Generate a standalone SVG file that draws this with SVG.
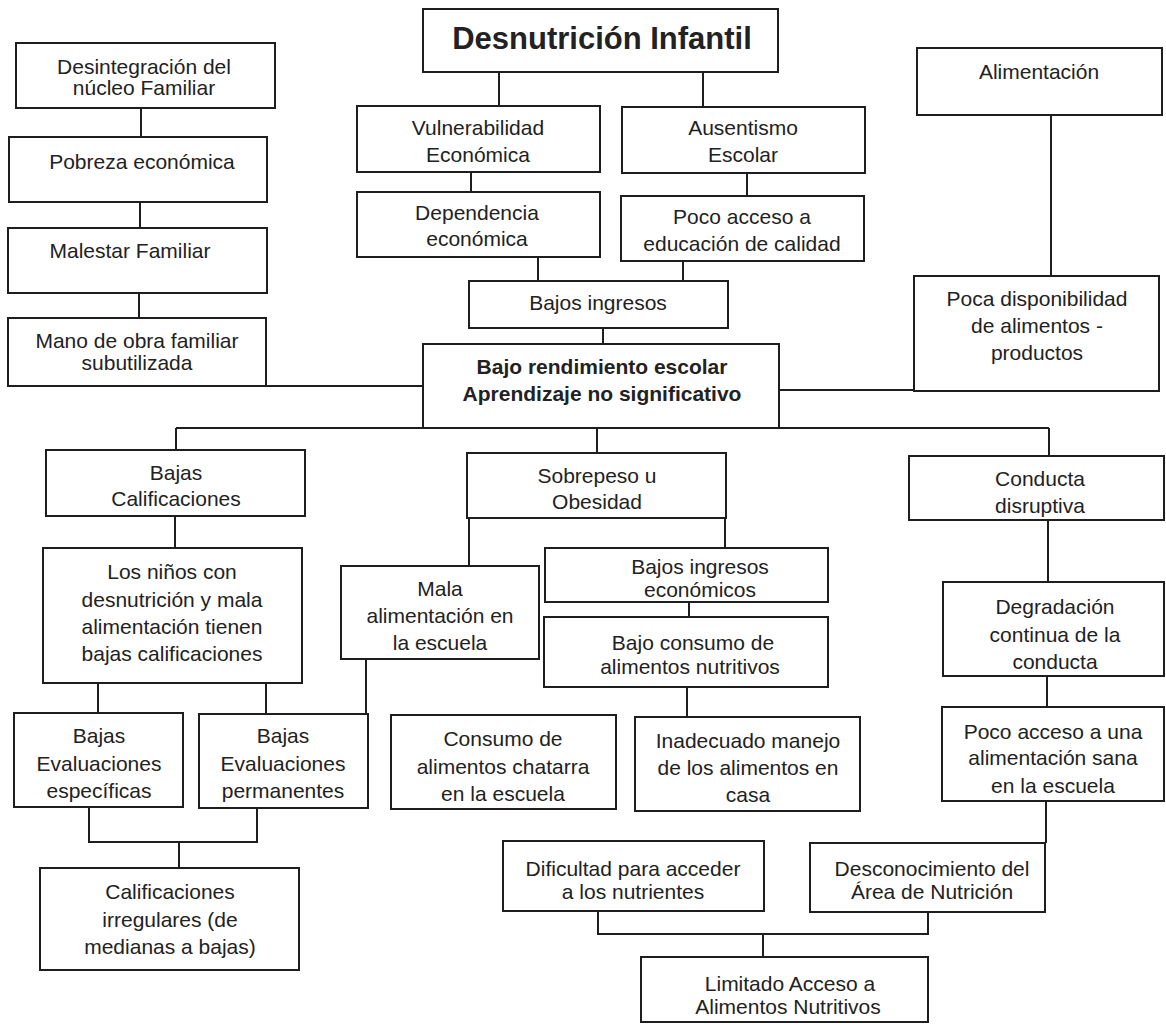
<svg xmlns="http://www.w3.org/2000/svg" width="1166" height="1025" viewBox="0 0 1166 1025">
<style>
  rect.box { fill: #ffffff; stroke: #1e1e1e; stroke-width: 2; }
  text { font-family: "Liberation Sans", Arial, sans-serif; font-size: 21px; fill: #222222; text-anchor: middle; }
  text.title { font-size: 31px; font-weight: bold; }
  text.bold { font-weight: bold; }
  #connectors path { fill: none; stroke: #1e1e1e; stroke-width: 2; }
</style>
<rect x="0" y="0" width="1166" height="1025" fill="#ffffff"/>

<g id="connectors">
  <path d="M141 108 V137"/>
  <path d="M140 202 V228"/>
  <path d="M139 293 V318"/>
  <path d="M266 386 H423"/>
  <path d="M499 72 V106"/>
  <path d="M703 72 V107"/>
  <path d="M471 172 V192"/>
  <path d="M747 173 V196"/>
  <path d="M538 257 V281"/>
  <path d="M683 261 V281"/>
  <path d="M603 328 V344"/>
  <path d="M1051 115 V276"/>
  <path d="M779 390 H914"/>
  <path d="M176 428 H1049"/>
  <path d="M176 428 V450"/>
  <path d="M597 428 V453"/>
  <path d="M1049 428 V456"/>
  <path d="M175 516 V548"/>
  <path d="M98 683 V713"/>
  <path d="M266 683 V714"/>
  <path d="M469 518 V566"/>
  <path d="M725 518 V548"/>
  <path d="M366 659 V714"/>
  <path d="M689 602 V617"/>
  <path d="M687 687 V717"/>
  <path d="M1048 520 V582"/>
  <path d="M1047 676 V707"/>
  <path d="M1046 801 V843"/>
  <path d="M89 807 V842 H257 V808"/>
  <path d="M179 842 V868"/>
  <path d="M598 911 V934 H928 V912"/>
  <path d="M763 934 V957"/>
</g>

<g id="n-desnutricion">
  <rect class="box" x="423" y="9" width="355" height="63"/>
  <text class="title" x="602" y="49">Desnutrición Infantil</text>
</g>
<g id="n-desintegracion">
  <rect class="box" x="16" y="43" width="259" height="65"/>
  <text x="144" y="74">Desintegración del</text>
  <text x="144" y="95">núcleo Familiar</text>
</g>
<g id="n-pobreza">
  <rect class="box" x="9" y="137" width="258" height="65"/>
  <text x="142" y="169">Pobreza económica</text>
</g>
<g id="n-malestar">
  <rect class="box" x="8" y="228" width="259" height="65"/>
  <text x="130" y="258">Malestar Familiar</text>
</g>
<g id="n-mano-obra">
  <rect class="box" x="8" y="318" width="258" height="68"/>
  <text x="137" y="348">Mano de obra familiar</text>
  <text x="137" y="370">subutilizada</text>
</g>
<g id="n-vulnerabilidad">
  <rect class="box" x="357" y="106" width="243" height="66"/>
  <text x="478" y="135">Vulnerabilidad</text>
  <text x="478" y="162">Económica</text>
</g>
<g id="n-ausentismo">
  <rect class="box" x="622" y="107" width="243" height="66"/>
  <text x="743" y="135">Ausentismo</text>
  <text x="743" y="162">Escolar</text>
</g>
<g id="n-dependencia">
  <rect class="box" x="357" y="192" width="243" height="65"/>
  <text x="477" y="220">Dependencia</text>
  <text x="477" y="246">económica</text>
</g>
<g id="n-poco-acceso-educacion">
  <rect class="box" x="621" y="196" width="243" height="65"/>
  <text x="742" y="224">Poco acceso a</text>
  <text x="742" y="251">educación de calidad</text>
</g>
<g id="n-bajos-ingresos">
  <rect class="box" x="469" y="281" width="259" height="47"/>
  <text x="598" y="310">Bajos ingresos</text>
</g>
<g id="n-bajo-rendimiento">
  <rect class="box" x="423" y="344" width="356" height="84"/>
  <text class="bold" x="602" y="374">Bajo rendimiento escolar</text>
  <text class="bold" x="602" y="401">Aprendizaje no significativo</text>
</g>
<g id="n-alimentacion">
  <rect class="box" x="917" y="48" width="245" height="67"/>
  <text x="1039" y="79">Alimentación</text>
</g>
<g id="n-poca-disponibilidad">
  <rect class="box" x="914" y="276" width="245" height="115"/>
  <text x="1037" y="306">Poca disponibilidad</text>
  <text x="1037" y="333">de alimentos -</text>
  <text x="1037" y="360">productos</text>
</g>
<g id="n-bajas-calificaciones">
  <rect class="box" x="46" y="450" width="259" height="66"/>
  <text x="176" y="480">Bajas</text>
  <text x="176" y="506">Calificaciones</text>
</g>
<g id="n-los-ninos">
  <rect class="box" x="43" y="548" width="259" height="135"/>
  <text x="172" y="579">Los niños con</text>
  <text x="172" y="607">desnutrición y mala</text>
  <text x="172" y="634">alimentación tienen</text>
  <text x="172" y="661">bajas calificaciones</text>
</g>
<g id="n-sobrepeso">
  <rect class="box" x="467" y="453" width="259" height="65"/>
  <text x="597" y="483">Sobrepeso u</text>
  <text x="597" y="509">Obesidad</text>
</g>
<g id="n-mala-alimentacion">
  <rect class="box" x="341" y="566" width="198" height="93"/>
  <text x="440" y="596">Mala</text>
  <text x="440" y="623">alimentación en</text>
  <text x="440" y="650">la escuela</text>
</g>
<g id="n-bajos-ingresos-economicos">
  <rect class="box" x="545" y="548" width="283" height="54"/>
  <text x="700" y="574">Bajos ingresos</text>
  <text x="700" y="597">económicos</text>
</g>
<g id="n-bajo-consumo">
  <rect class="box" x="544" y="617" width="284" height="70"/>
  <text x="693" y="650">Bajo consumo de</text>
  <text x="690" y="674">alimentos nutritivos</text>
</g>
<g id="n-conducta">
  <rect class="box" x="909" y="456" width="255" height="64"/>
  <text x="1040" y="486">Conducta</text>
  <text x="1040" y="513">disruptiva</text>
</g>
<g id="n-degradacion">
  <rect class="box" x="943" y="582" width="221" height="94"/>
  <text x="1055" y="614">Degradación</text>
  <text x="1055" y="642">continua de la</text>
  <text x="1055" y="669">conducta</text>
</g>
<g id="n-especificas">
  <rect class="box" x="14" y="713" width="169" height="94"/>
  <text x="99" y="743">Bajas</text>
  <text x="99" y="771">Evaluaciones</text>
  <text x="99" y="798">específicas</text>
</g>
<g id="n-permanentes">
  <rect class="box" x="199" y="714" width="169" height="94"/>
  <text x="283" y="743">Bajas</text>
  <text x="283" y="771">Evaluaciones</text>
  <text x="283" y="798">permanentes</text>
</g>
<g id="n-consumo-chatarra">
  <rect class="box" x="391" y="715" width="225" height="94"/>
  <text x="503" y="746">Consumo de</text>
  <text x="503" y="774">alimentos chatarra</text>
  <text x="503" y="801">en la escuela</text>
</g>
<g id="n-inadecuado">
  <rect class="box" x="635" y="717" width="225" height="94"/>
  <text x="748" y="748">Inadecuado manejo</text>
  <text x="748" y="775">de los alimentos en</text>
  <text x="748" y="802">casa</text>
</g>
<g id="n-poco-acceso-sana">
  <rect class="box" x="942" y="707" width="222" height="94"/>
  <text x="1053" y="739">Poco acceso a una</text>
  <text x="1053" y="765">alimentación sana</text>
  <text x="1053" y="793">en la escuela</text>
</g>
<g id="n-calificaciones-irregulares">
  <rect class="box" x="40" y="868" width="259" height="102"/>
  <text x="170" y="899">Calificaciones</text>
  <text x="170" y="927">irregulares (de</text>
  <text x="170" y="954">medianas a bajas)</text>
</g>
<g id="n-dificultad">
  <rect class="box" x="503" y="841" width="261" height="70"/>
  <text x="633" y="876">Dificultad para acceder</text>
  <text x="633" y="899">a los nutrientes</text>
</g>
<g id="n-desconocimiento">
  <rect class="box" x="810" y="843" width="235" height="69"/>
  <text x="932" y="876">Desconocimiento del</text>
  <text x="932" y="899">Área de Nutrición</text>
</g>
<g id="n-limitado">
  <rect class="box" x="641" y="957" width="287" height="65"/>
  <text x="790" y="991">Limitado Acceso a</text>
  <text x="788" y="1014">Alimentos Nutritivos</text>
</g>
</svg>
